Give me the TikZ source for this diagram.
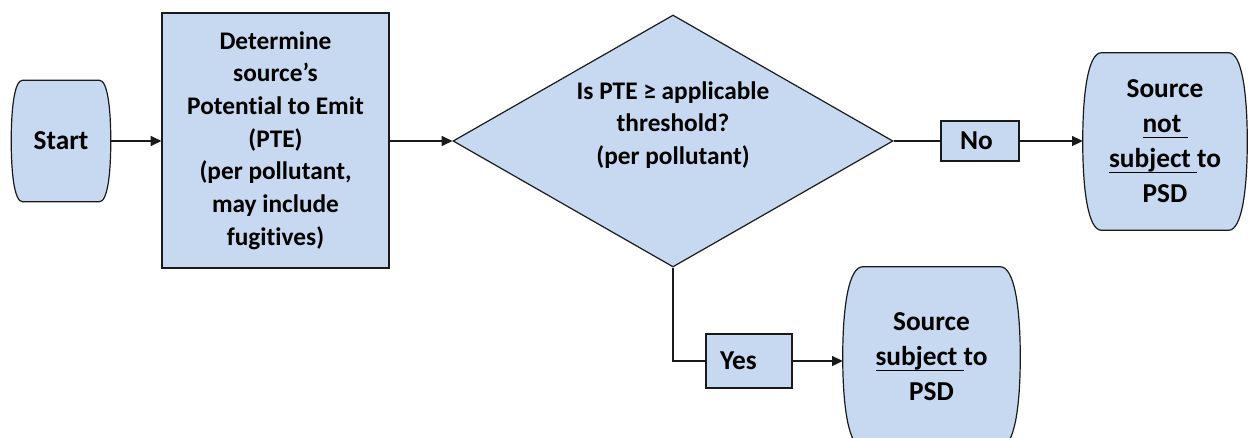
\documentclass[tikz,border=0pt]{standalone}
\usepackage{fontspec}
\setmainfont{Carlito}[Ligatures=NoCommon]
\usetikzlibrary{shapes.geometric,arrows.meta,calc,backgrounds}
\definecolor{boxfill}{HTML}{C6D9F1}
\definecolor{edge}{HTML}{1A1A1A}
\tikzset{
  px/.style={x=0.75pt,y=-0.75pt},
  txt/.style={font=\fontsize{19}{24.5}\selectfont\bfseries, align=center, text=black},
  bigtxt/.style={font=\fontsize{20.5}{26.2}\selectfont\bfseries, align=center, text=black},
  boxstyle/.style={draw=edge, fill=boxfill, line width=0.9pt},
  barrel/.style={bigtxt, draw=none, inner sep=0pt},
  flowline/.style={draw=edge, line width=0.9pt},
  flowarrow/.style={flowline, -{Triangle[length=8pt,width=7.5pt]}},
}
% underline sitting just below the baseline
\newcommand{\uln}[1]{\underline{\raisebox{0pt}[\height][0pt]{#1}\rule[-2.2pt]{0pt}{2.2pt}}}
% outline of a box with bulging sides, drawn around node #1, corner inset #2
\newcommand{\barrelshape}[2]{%
  \path[boxstyle] let \p1=(#1.north west), \p2=(#1.south east),
      \n1={0.5*(\y1+\y2)}, \n2={0.22*(\y2-\y1)} in
    (\x1+#2,\y1) -- (\x2-#2,\y1)
    .. controls (\x2-0.3*#2,\y1) and (\x2,\y1+\n2) .. (\x2,\n1)
    .. controls (\x2,\y2-\n2) and (\x2-0.3*#2,\y2) .. (\x2-#2,\y2)
    -- (\x1+#2,\y2)
    .. controls (\x1+0.3*#2,\y2) and (\x1,\y2-\n2) .. (\x1,\n1)
    .. controls (\x1,\y1+\n2) and (\x1+0.3*#2,\y1) .. cycle;}
\begin{document}
\begin{tikzpicture}[px]
\clip (0,0) rectangle (1250,437);
\useasboundingbox (0,0) rectangle (1250,437);

% start terminal
\node[barrel, minimum width=99*0.75pt, minimum height=121*0.75pt] (start) at (61,141) {Start};

% potential to emit box
\node[txt, boxstyle, minimum width=227*0.75pt, minimum height=255*0.75pt, inner sep=0pt]
  (pte) at (275.5,140.5)
  {Determine\\source’s\\Potential to Emit\\(PTE)\\(per pollutant,\\may include\\fugitives)};

% decision
\node[diamond, boxstyle, minimum width=440*0.75pt, minimum height=252*0.75pt, inner sep=0pt]
  (dec) at (673,141) {};
\node[txt] (dectext) at (673,125) {Is PTE ≥ applicable\\threshold?\\(per pollutant)};

% answer labels
\node[bigtxt, boxstyle, minimum height=40*0.75pt, text width=40*0.75pt, inner xsep=19*0.75pt, inner ysep=0pt, align=left]
  (no) at (980,141) {\raisebox{-3pt}{No}};
\node[bigtxt, boxstyle, minimum height=54*0.75pt, text width=58*0.75pt, inner xsep=14*0.75pt, inner ysep=0pt, align=left]
  (yes) at (749,361) {Yes};

% outcomes
\node[barrel, minimum width=164*0.75pt, minimum height=177*0.75pt] (notsub) at (1165,141.5)
  {Source\\\uln{not }\\\uln{subject }to\\PSD};
\node[barrel, minimum width=177*0.75pt, minimum height=180*0.75pt] (sub) at (931.5,357)
  {Source\\\uln{subject }to\\PSD};

\begin{scope}[on background layer]
  \barrelshape{start}{8.5pt}
  \barrelshape{notsub}{14pt}
  \barrelshape{sub}{15pt}
\end{scope}

% connectors
\draw[flowarrow] (start.east) -- (start.east -| pte.west);
\draw[flowarrow] (pte.east |- dec.west) -- (dec.west);
\draw[flowline] (dec.east) -- (no.west);
\draw[flowarrow] (no.east) -- (no.east -| notsub.west);
\draw[flowline] (dec.south) |- (yes.west);
\draw[flowarrow] (yes.east) -- (yes.east -| sub.west);
\end{tikzpicture}
\end{document}
